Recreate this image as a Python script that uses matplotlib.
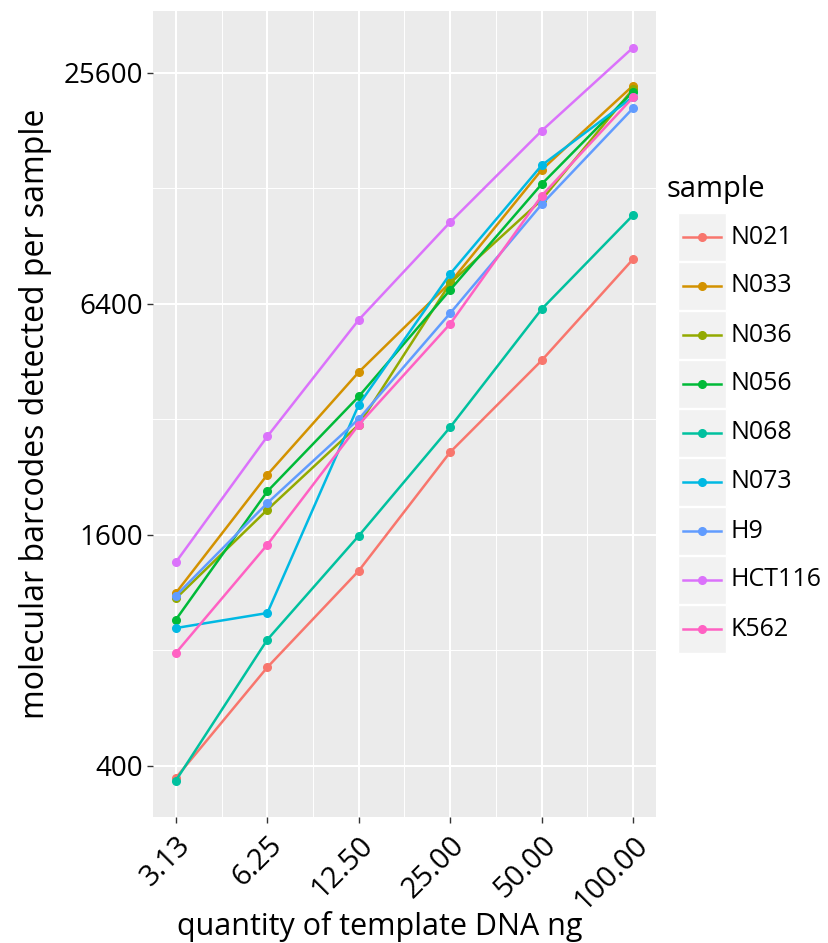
import numpy as np
import matplotlib
matplotlib.use('Agg')
import matplotlib.pyplot as plt
from matplotlib.lines import Line2D
from matplotlib.patches import Rectangle

plt.rcParams['font.family'] = ['Open Sans', 'DejaVu Sans']

# ── Data ──
x_ng = [3.125, 6.25, 12.5, 25, 50, 100]
x_labels = ['3.13', '6.25', '12.50', '25.00', '50.00', '100.00']
y_ticks = [400, 1600, 6400, 25600]

samples = ['N021', 'N033', 'N036', 'N056', 'N068', 'N073', 'H9', 'HCT116', 'K562']
colors = ['#F8766D', '#D39200', '#93AA00', '#00BA38', '#00C19F',
          '#00B9E3', '#619CFF', '#DB72FB', '#FF61C3']

N021 = [372, 722, 1289, 2628, 4555, 8370]
N033 = [1128, 2293, 4248, 7272, 14300, 23720]
N036 = [1092, 1859, 3097, 7245, 11945, 23250]
N056 = [961, 2075, 3669, 6960, 13125, 22880]
N068 = [366, 852, 1590, 3053, 6200, 10900]
N073 = [914, 1000, 3491, 7663, 14694, 22160]
H9 = [1110, 1935, 3205, 6050, 11625, 20710]
HCT116 = [1357, 2886, 5813, 10450, 18075, 29800]
K562 = [787, 1507, 3097, 5676, 12236, 22100]
values = [N021, N033, N036, N056, N068, N073, H9, HCT116, K562]

W, H = 829, 943
fig = plt.figure(figsize=(W / 100, H / 100), dpi=100)
ax = fig.add_axes([153 / W, 1 - 817 / H, (656 - 153) / W, (817 - 11) / H])
ax.set_facecolor('#EBEBEB')
for s in ax.spines.values():
    s.set_visible(False)

for name, vals, c in zip(samples, values, colors):
    ax.plot(x_ng, vals, color=c, lw=1.8, marker='o', ms=5.5, mec=c, zorder=3)

ax.set_xscale('log', base=2)
ax.set_yscale('log', base=2)
ax.set_xlim(x_ng[0] * 2 ** -0.25, x_ng[-1] * 2 ** 0.25)
ax.set_ylim(294, 37100)

ax.set_xticks(x_ng)
ax.set_xticklabels(x_labels)
ax.set_xticks([np.sqrt(a * b) for a, b in zip(x_ng[:-1], x_ng[1:])], minor=True)
ax.set_yticks(y_ticks)
ax.set_yticklabels([str(v) for v in y_ticks])
ax.set_yticks([np.sqrt(a * b) for a, b in zip(y_ticks[:-1], y_ticks[1:])], minor=True)
ax.xaxis.set_minor_formatter(matplotlib.ticker.NullFormatter())
ax.yaxis.set_minor_formatter(matplotlib.ticker.NullFormatter())

ax.grid(which='major', color='white', lw=1.5, zorder=0)
ax.grid(which='minor', color='white', lw=0.7, zorder=0)
ax.set_axisbelow(True)
ax.tick_params(which='minor', length=0)
ax.tick_params(which='major', length=4, width=1, color='#333333', labelsize=20,
               labelcolor='black')
ax.tick_params(axis='y', pad=3)
ax.tick_params(axis='x', pad=6)
plt.setp(ax.get_xticklabels(), rotation=45, ha='right', va='top', rotation_mode='anchor',
         fontsize=21)

ax.set_ylabel('molecular barcodes detected per sample', fontsize=23)
ax.yaxis.set_label_coords(-0.20, 0.5)
ax.set_xlabel('quantity of template DNA ng', fontsize=22)
ax.xaxis.set_label_coords((380 - 153) / 503, (817 - 911) / 806)

# ── Legend (ggplot-style keys) ──
fig.text(667 / W, 1 - 190 / H, 'sample', fontsize=21, va='center', ha='left')
for i, (name, c) in enumerate(zip(samples, colors)):
    yc = 237 + i * 49
    fig.add_artist(Rectangle((678 / W, 1 - (yc + 24) / H), 48 / W, 48 / H,
                             transform=fig.transFigure, facecolor='#F2F2F2',
                             edgecolor='white', lw=1))
    fig.add_artist(Line2D([683 / W, 721 / W], [1 - yc / H, 1 - yc / H],
                          transform=fig.transFigure, color=c, lw=1.8))
    fig.add_artist(Line2D([702 / W], [1 - yc / H], transform=fig.transFigure,
                          color=c, marker='o', ms=5.5))
    fig.text(731 / W, 1 - yc / H, name, fontsize=18, va='center', ha='left')

fig.savefig('out.png', dpi=100)
